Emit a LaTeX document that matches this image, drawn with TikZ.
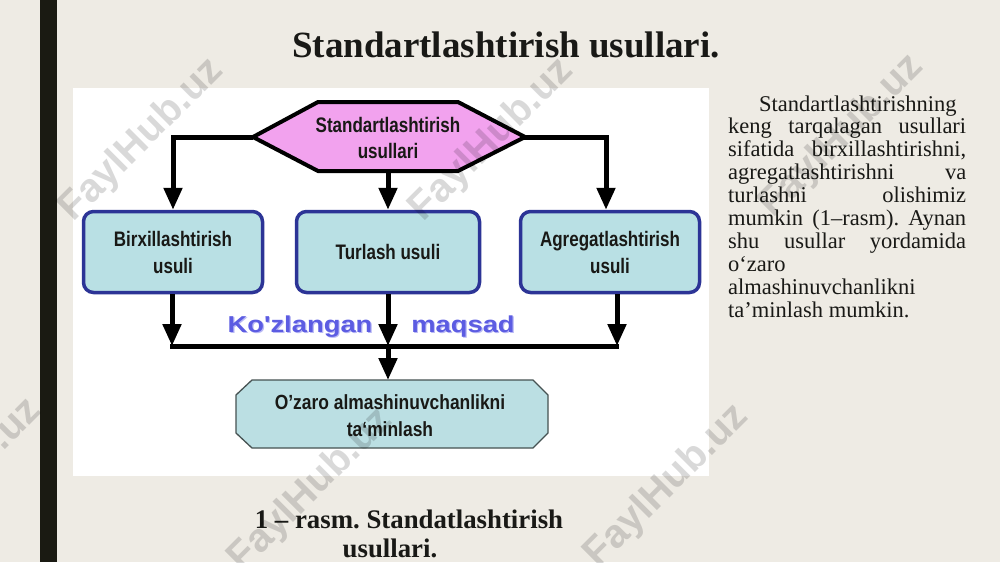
\documentclass[tikz,border=0pt]{standalone}
\usepackage{fontspec}
\setmainfont{Liberation Serif}
\newfontfamily\nar[FakeStretch=0.81]{Liberation Sans Bold}
\newfontfamily\narb[FakeStretch=0.85]{Liberation Sans Bold}
\newfontfamily\widefont[FakeStretch=1.19]{Liberation Sans Bold}
\newfontfamily\wmfont{Liberation Sans Bold}
\usetikzlibrary{arrows.meta}
\frenchspacing
\definecolor{bg}{RGB}{238,235,228}
\definecolor{barc}{RGB}{26,26,18}
\definecolor{pinkf}{RGB}{242,162,238}
\definecolor{boxfill}{RGB}{185,224,228}
\definecolor{goalfill}{RGB}{187,223,227}
\definecolor{boxblue}{RGB}{44,52,150}
\definecolor{goaledge}{RGB}{70,82,82}
\definecolor{txt}{RGB}{25,25,22}
\definecolor{kozc}{RGB}{92,92,226}
\definecolor{kozs}{RGB}{185,185,245}
\begin{document}
\begin{tikzpicture}[x=1pt,y=-1pt,
  arr/.style={line width=5pt,-{Triangle[width=18pt,length=22pt]}},
  conn/.style={line width=5pt},
  bluebox/.style={draw=boxblue,line width=3.5pt,fill=boxfill,rounded corners=10pt,
    minimum height=81pt,inner sep=0pt,align=center,text=txt,
    font=\nar\fontsize{21}{27}\selectfont},
  hextext/.style={inner sep=0pt,align=center,text=txt,font=\nar\fontsize{21}{26}\selectfont},
  goaltext/.style={inner sep=0pt,align=center,text=txt,font=\narb\fontsize{20.5}{27}\selectfont},
  para/.style={inner sep=0pt,anchor=base west,text=txt,font=\fontsize{22.5}{23}\selectfont},
  koz/.style={inner sep=0pt,anchor=base,font=\widefont\fontsize{23}{24}\selectfont},
  wm/.style={inner sep=0pt,rotate=45,text=black,text opacity=0.15,font=\wmfont\fontsize{40}{40}\selectfont}
]
\useasboundingbox (0,0) rectangle (1000,562);
\fill[bg] (0,0) rectangle (1000,562);
\fill[barc] (40,0) rectangle (57,562);
\fill[white] (73,88) rectangle (709,476);

% title
\node[inner sep=0pt,anchor=base,text=txt,font=\fontsize{37}{40}\selectfont\bfseries] (title) at (506,57) {Standartlashtirish usullari.};

% hexagon
\coordinate (hexL) at (253,137);
\coordinate (hexR) at (525,137);
\coordinate (hexB) at (388,171);
\filldraw[fill=pinkf,draw=black,line width=4pt,line join=miter]
  (hexL) -- (318,102) -- (458,102) -- (hexR) -- (458,171) -- (318,171) -- cycle;
\node[hextext] (top) at (388,137.5) {Standartlashtirish\\usullari};

% boxes
\node[bluebox,minimum width=179pt] (b1) at (173,252) {Birxillashtirish\\usuli};
\node[bluebox,minimum width=183pt] (b2) at (388,252) {Turlash usuli};
\node[bluebox,minimum width=179pt] (b3) at (610,252) {Agregatlashtirish\\usuli};

% top connectors
\draw[arr] (hexL) -| (b1.north);
\draw[arr] (hexB) -- (b2.north);
\draw[arr] ([xshift=-1pt]hexR) -| ([xshift=-4pt]b3.north);

% bottom collector
\coordinate (j1) at (172,346);
\coordinate (j2) at (388,346);
\coordinate (j3) at (617,346);
\draw[conn] ([xshift=-2pt]j1) -- ([xshift=2pt]j3);
\draw[arr] (j1 |- b1.south) -- (j1);
\draw[arr] (b2.south) -- (j2);
\draw[arr] (j3 |- b3.south) -- (j3);

% goal box
\coordinate (goaltop) at (388,380);
\filldraw[fill=goalfill,draw=goaledge,line width=1.3pt]
  (252,380) -- (533,380) -- (548,395) -- (548,433) -- (533,448) -- (252,448) -- (236,433) -- (236,395) -- cycle;
\node[goaltext] (goal) at (390,416) {O’zaro almashinuvchanlikni\\ta‘minlash};
\draw[arr] (j2) -- (goaltop);

% Ko'zlangan maqsad
\node[koz,text=kozs] (k1s) at (301.2,333.2) {Ko'zlangan};
\node[koz,text=kozc] (k1) at (300,332) {Ko'zlangan};
\node[koz,text=kozs] (k2s) at (464.2,333.2) {maqsad};
\node[koz,text=kozc] (k2) at (463,332) {maqsad};

% paragraph
\node[para] (p1) at (728,111) {\hbox to 238pt{\hspace*{31pt}Standartlashtirishning\hfil}};
\node[para] (p2) at (728,133.9) {\hbox to 238pt{keng\hfill tarqalagan\hfill usullari}};
\node[para] (p3) at (728,156.8) {\hbox to 238pt{sifatida\hfill birxillashtirishni,}};
\node[para] (p4) at (728,179.7) {\hbox to 238pt{agregatlashtirishni\hfill va}};
\node[para] (p5) at (728,202.6) {\hbox to 238pt{turlashni\hfill olishimiz}};
\node[para] (p6) at (728,225.5) {\hbox to 238pt{mumkin\hfill (1–rasm).\hfill Aynan}};
\node[para] (p7) at (728,248.4) {\hbox to 238pt{shu\hfill usullar\hfill yordamida}};
\node[para] (p8) at (728,271.3) {o‘zaro};
\node[para] (p9) at (728,294.2) {almashinuvchanlikni};
\node[para] (p10) at (728,317.1) {ta’minlash mumkin.};

% caption
\node[inner sep=0pt,anchor=base,text=txt,font=\fontsize{26.8}{28}\selectfont\bfseries] (cap1) at (409,528) {1 – rasm. Standatlashtirish};
\node[inner sep=0pt,anchor=base,text=txt,font=\fontsize{26.8}{28}\selectfont\bfseries] (cap2) at (390,557) {usullari.};

% watermarks
\node[wm] (w1) at (142,140) {FaylHub.uz};
\node[wm] (w2) at (492,140) {FaylHub.uz};
\node[wm] (w3) at (842,136) {FaylHub.uz};
\node[wm] (w4) at (-40,480) {FaylHub.uz};
\node[wm] (w5) at (311,490) {FaylHub.uz};
\node[wm] (w6) at (667,486) {FaylHub.uz};
\end{tikzpicture}
\end{document}
